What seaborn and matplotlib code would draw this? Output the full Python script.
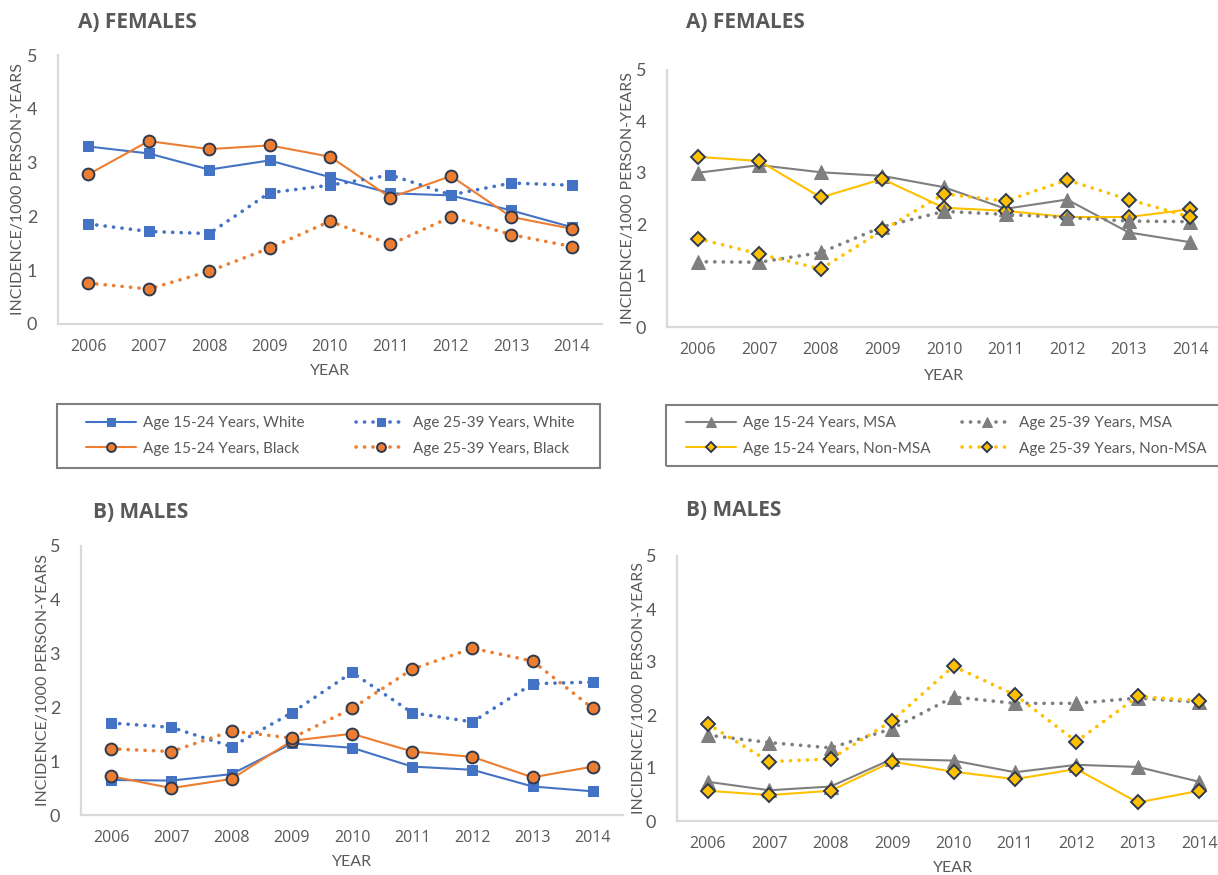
""" Incidence per 1000 person-years, females and males, by race and by MSA. """
import seaborn as sns
import matplotlib.pyplot as plt
from matplotlib.patches import Rectangle

years = [2006, 2007, 2008, 2009, 2010, 2011, 2012, 2013, 2014]

# females, by race
f_white_1524 = [3.30, 3.17, 2.87, 3.04, 2.73, 2.43, 2.39, 2.11, 1.80]
f_white_2539 = [1.86, 1.72, 1.68, 2.44, 2.58, 2.77, 2.40, 2.62, 2.58]
f_black_1524 = [2.78, 3.40, 3.25, 3.32, 3.11, 2.35, 2.75, 1.99, 1.77]
f_black_2539 = [0.76, 0.65, 0.98, 1.41, 1.91, 1.48, 1.99, 1.66, 1.44]

# females, by MSA
f_msa_1524 = [3.00, 3.15, 3.01, 2.94, 2.72, 2.30, 2.48, 1.84, 1.65]
f_msa_2539 = [1.27, 1.26, 1.45, 1.95, 2.25, 2.19, 2.13, 2.06, 2.05]
f_non_1524 = [3.31, 3.23, 2.52, 2.88, 2.32, 2.26, 2.14, 2.14, 2.29]
f_non_2539 = [1.72, 1.42, 1.13, 1.88, 2.59, 2.45, 2.86, 2.48, 2.14]

# males, by race
m_white_1524 = [0.65, 0.64, 0.76, 1.33, 1.25, 0.90, 0.84, 0.53, 0.44]
m_white_2539 = [1.71, 1.63, 1.27, 1.90, 2.65, 1.90, 1.73, 2.44, 2.47]
m_black_1524 = [0.72, 0.50, 0.67, 1.38, 1.51, 1.18, 1.08, 0.70, 0.90]
m_black_2539 = [1.23, 1.18, 1.56, 1.43, 1.98, 2.71, 3.10, 2.86, 1.98]

# males, by MSA
m_msa_1524 = [0.74, 0.58, 0.65, 1.17, 1.14, 0.92, 1.06, 1.02, 0.74]
m_msa_2539 = [1.62, 1.48, 1.38, 1.74, 2.34, 2.22, 2.22, 2.32, 2.24]
m_non_1524 = [0.57, 0.49, 0.57, 1.12, 0.93, 0.79, 0.98, 0.35, 0.57]
m_non_2539 = [1.83, 1.12, 1.17, 1.89, 2.92, 2.38, 1.50, 2.35, 2.27]

race_labels = ['Age 15-24 Years, White', 'Age 15-24 Years, Black',
               'Age 25-39 Years, White', 'Age 25-39 Years, Black']
msa_labels = ['Age 15-24 Years, MSA', 'Age 15-24 Years, Non-MSA',
              'Age 25-39 Years, MSA', 'Age 25-39 Years, Non-MSA']

BLUE, ORANGE, GRAY, GOLD = '#4472C4', '#ED7D31', '#7F7F7F', '#FFC000'
EDGE = '#2E3A50'
TXT = '#595959'
DOT = (0, (0.05, 2.3))

race_style = [
    dict(color=BLUE, marker='s', markersize=7, markeredgecolor=BLUE, linewidth=1.5, linestyle='-'),
    dict(color=ORANGE, marker='o', markersize=8.5, markeredgecolor=EDGE, markeredgewidth=1.4, linewidth=1.5, linestyle='-'),
    dict(color=BLUE, marker='s', markersize=7, markeredgecolor=BLUE, linewidth=2.6, linestyle=DOT),
    dict(color=ORANGE, marker='o', markersize=8.5, markeredgecolor=EDGE, markeredgewidth=1.4, linewidth=2.6, linestyle=DOT),
]
msa_style = [
    dict(color=GRAY, marker='^', markersize=10, markeredgecolor=GRAY, linewidth=1.5, linestyle='-'),
    dict(color=GOLD, marker='D', markersize=7, markeredgecolor=EDGE, markeredgewidth=1.4, linewidth=1.5, linestyle='-'),
    dict(color=GRAY, marker='^', markersize=10, markeredgecolor=GRAY, linewidth=2.6, linestyle=DOT),
    dict(color=GOLD, marker='D', markersize=7, markeredgecolor=EDGE, markeredgewidth=1.4, linewidth=2.6, linestyle=DOT),
]

sns.set_style('white')
plt.rcParams['font.family'] = ['Lato', 'DejaVu Sans']
plt.rcParams['lines.dash_capstyle'] = 'round'

W, H = 1218, 875
fig = plt.figure(figsize=(W / 100, H / 100), dpi=100)


def px(x, y):
    return x / W, 1 - y / H


def panel(box, title, title_x, title_y, series, labels, styles, ylab_x, year_y):
    left, top, right, bottom = box
    ax = fig.add_axes([left / W, 1 - bottom / H, (right - left) / W, (bottom - top) / H])
    for vals, lab, st in zip(series, labels, styles):
        sns.lineplot(x=years, y=vals, ax=ax, label=lab, **st)
    ax.set_xlim(2005.5, 2014.5)
    ax.set_ylim(0, 5)
    ax.set_xticks(years)
    ax.set_yticks(range(6))
    ax.tick_params(axis='x', length=0, pad=11, labelsize=11.5, colors=TXT,
                   labelfontfamily='Open Sans')
    ax.tick_params(axis='y', length=0, pad=15, labelsize=13, colors=TXT)
    sns.despine(ax=ax)
    for s in ['left', 'bottom']:
        ax.spines[s].set_color('#D9D9D9')
        ax.spines[s].set_linewidth(1.6)
    ax.set_xlabel('')
    ax.set_ylabel('')
    ax.get_legend().remove()
    fig.text(*px(title_x, title_y), title, fontsize=15, fontweight='bold', color=TXT,
             family='Open Sans', ha='left', va='center')
    fig.text(*px(ylab_x, (top + bottom) / 2), 'INCIDENCE/1000 PERSON-YEARS', rotation=90,
             fontsize=11.5, color=TXT, ha='center', va='center')
    fig.text(*px((left + right) / 2, year_y), 'YEAR', fontsize=11.5, color=TXT,
             ha='center', va='center')
    return ax


def legend(ax, frame, col_x, mid_y):
    x0, y0, x1, y1 = frame
    handles, labels = ax.get_legend_handles_labels()
    for k, cx in enumerate(col_x):
        fig.legend(handles[2 * k:2 * k + 2], labels[2 * k:2 * k + 2], ncol=1,
                   loc='center left', bbox_to_anchor=px(cx, mid_y),
                   fontsize=11, frameon=False, borderpad=0, borderaxespad=0,
                   handlelength=3.3, handletextpad=0.45, labelspacing=0.75,
                   markerscale=0.75, labelcolor=TXT)
    fig.patches.append(Rectangle(px(x0, y1), (x1 - x0) / W, (y1 - y0) / H, fill=False,
                                 edgecolor='#808080', linewidth=1.5,
                                 transform=fig.transFigure, figure=fig))


ax1 = panel((58, 55, 602, 324), 'A) FEMALES', 78, 22,
            [f_white_1524, f_black_1524, f_white_2539, f_black_2539],
            race_labels, race_style, 18, 371)
legend(ax1, (57, 404, 600, 468), (86, 356), 436)

ax2 = panel((667, 70, 1221, 327), 'A) FEMALES', 686, 22,
            [f_msa_1524, f_non_1524, f_msa_2539, f_non_2539],
            msa_labels, msa_style, 628, 376)
legend(ax2, (666, 405, 1240, 466), (686, 962), 436)

ax3 = panel((81, 546, 623, 815), 'B) MALES', 93, 512,
            [m_white_1524, m_black_1524, m_white_2539, m_black_2539],
            race_labels, race_style, 43, 862)

ax4 = panel((677, 556, 1230, 821), 'B) MALES', 686, 511,
            [m_msa_1524, m_non_1524, m_msa_2539, m_non_2539],
            msa_labels, msa_style, 639, 868)

fig.savefig('out.png', dpi=100, facecolor='white')
